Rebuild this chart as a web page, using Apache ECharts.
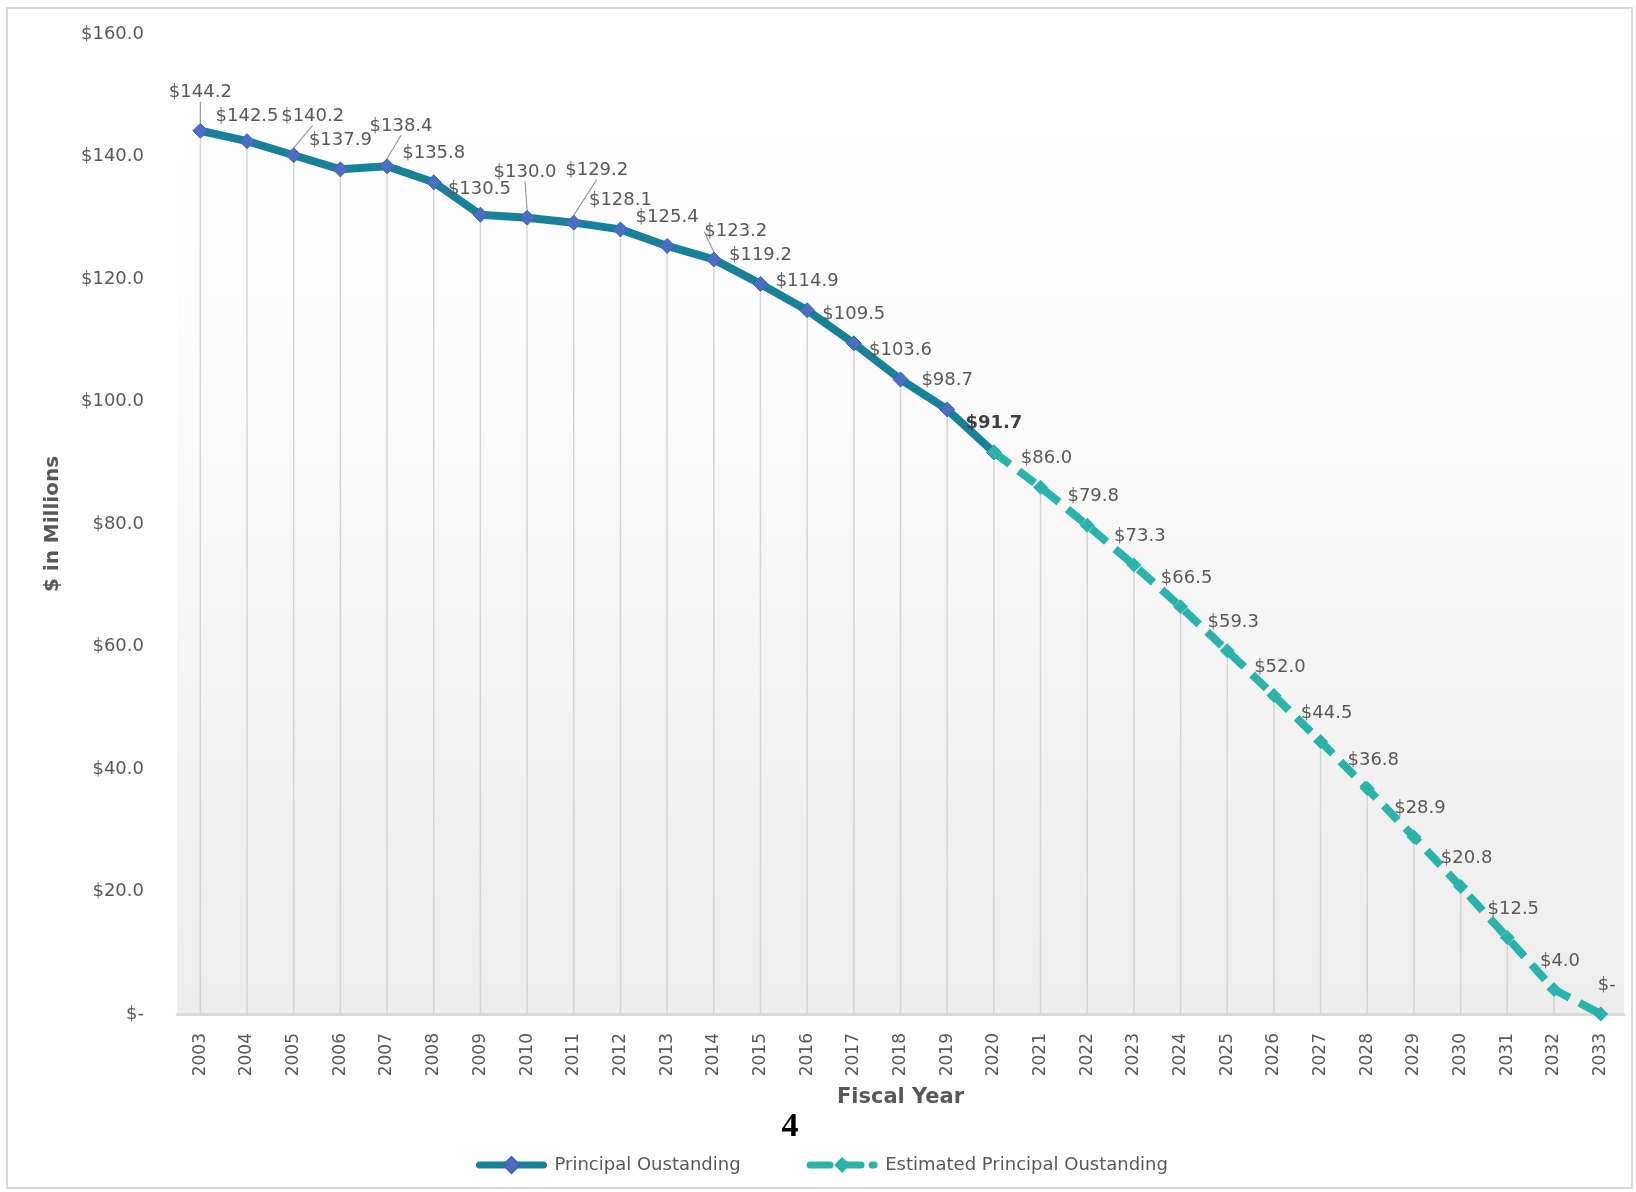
<!DOCTYPE html>
<html>
<head>
<meta charset="utf-8">
<script src="https://cdn.jsdelivr.net/npm/echarts@6/dist/echarts.min.js"></script>
<style>
html,body{margin:0;padding:0;background:#fff;}
#c{width:1636px;height:1192px;}
</style>
</head>
<body>
<div id="c"></div>
<script>
// ---- data ----
const years = ['2003','2004','2005','2006','2007','2008','2009','2010','2011','2012','2013','2014','2015','2016','2017','2018','2019','2020','2021','2022','2023','2024','2025','2026','2027','2028','2029','2030','2031','2032','2033'];
const principalOutstanding = [144.2,142.5,140.2,137.9,138.4,135.8,130.5,130.0,129.2,128.1,125.4,123.2,119.2,114.9,109.5,103.6,98.7,91.7];
const estimatedYearsStart = '2020';
const estimatedPrincipal = [91.7,86.0,79.8,73.3,66.5,59.3,52.0,44.5,36.8,28.9,20.8,12.5,4.0,0];
const yTicks = [0,20,40,60,80,100,120,140,160];
const seriesNames = ['Principal Oustanding','Estimated Principal Oustanding'];

// ---- label placement tweaks (styling, keyed by year) ----
const labelShift = {
  '2003':{dx:0,dy:-9,line:true},
  '2004':{dx:0,dy:4},
  '2005':{dx:19,dy:-10,line:true},
  '2007':{dx:14,dy:-11,line:true},
  '2009':{dx:-1,dy:4},
  '2010':{dx:-2,dy:-16,line:true},
  '2011':{dx:23,dy:-23,line:true},
  '2014':{dx:22,dy:1,line:true}
};

const fmt = v => v === 0 ? '$-' : '$' + v.toFixed(1);
const estStart = years.indexOf(estimatedYearsStart);

const actualData = principalOutstanding.map((v,i) => {
  const item = {value: v};
  const s = labelShift[years[i]];
  if (s && s.line) item.labelLine = {show:true, lineStyle:{color:'#9a9a9a', width:1.2}};
  if (years[i] === estimatedYearsStart) item.label = {fontWeight:'bold', color:'#404040'};
  return item;
});
const estData = years.map((y,i) => {
  if (i < estStart) return '-';
  const v = estimatedPrincipal[i - estStart];
  const item = {value: v};
  if (i === estStart) item.label = {show:false};
  return item;
});
const dropData = years.map((y,i) => i < estStart ? principalOutstanding[i] : estimatedPrincipal[i - estStart]);

const labelFont = 'DejaVu Sans';
const chart = echarts.init(document.getElementById('c'));
chart.setOption({
  backgroundColor:'#ffffff',
  animation:false,
  grid:{left:177,right:12,top:34,bottom:178,show:true,borderWidth:0,
    backgroundColor:new echarts.graphic.LinearGradient(0,0,0,1,[{offset:0,color:'#ffffff'},{offset:0.3,color:'#fcfcfc'},{offset:1,color:'#ededed'}])},
  graphic:[
    {type:'rect',shape:{x:7,y:8,width:1625,height:1180},style:{fill:'none',stroke:'#d9d9d9',lineWidth:2},silent:true,z:-10},
    {type:'text',x:790,y:1127,style:{text:'4',font:'bold 34px "Liberation Serif"',fill:'#000',textAlign:'center',textVerticalAlign:'middle'}}
  ],
  legend:{
    data:seriesNames,
    left:471, top:1151,
    itemWidth:64, itemHeight:20, itemGap:66,
    lineStyle:{width:7,cap:'round'},
    textStyle:{fontFamily:labelFont,fontSize:18,color:'#595959',padding:[0,0,0,6]}
  },
  xAxis:{
    type:'category', data:years, boundaryGap:true,
    axisLine:{show:true,lineStyle:{color:'#d9d9d9',width:3}},
    axisTick:{show:false},
    axisLabel:{rotate:90,margin:19,fontFamily:labelFont,fontSize:17,color:'#595959',interval:0},
    splitLine:{show:false},
    name:'Fiscal Year', nameLocation:'middle', nameGap:73,
    nameTextStyle:{fontFamily:labelFont,fontWeight:'bold',fontSize:21,color:'#595959'}
  },
  yAxis:{
    type:'value', min:yTicks[0], max:yTicks[yTicks.length-1], interval:yTicks[1]-yTicks[0],
    axisLine:{show:false}, axisTick:{show:false}, splitLine:{show:false},
    axisLabel:{margin:33,fontFamily:labelFont,fontSize:18,color:'#595959',formatter:v=>fmt(v)},
    name:'$ in Millions', nameLocation:'middle', nameRotate:90, nameGap:114,
    nameTextStyle:{fontFamily:labelFont,fontWeight:'bold',fontSize:20,color:'#595959'}
  },
  series:[
    {
      type:'bar', name:'drop', data:dropData, barWidth:1.5, silent:true, z:1,
      itemStyle:{color:'#d4d4d4'}, label:{show:false}
    },
    {
      type:'line', name:seriesNames[0], data:actualData, z:3,
      symbol:'diamond', symbolSize:15, showAllSymbol:true,
      lineStyle:{color:'#17819a',width:8},
      itemStyle:{color:'#4a6ec2',borderColor:'#3f62b5',borderWidth:1},
      label:{show:true,position:'top',distance:12,offset:[6,0],fontFamily:labelFont,fontSize:18,color:'#595959',formatter:p=>fmt(p.value)},
      labelLayout:p=>{const s=labelShift[years[p.dataIndex]]; return s?{dx:s.dx,dy:s.dy}:{};}
    },
    {
      type:'line', name:seriesNames[1], data:estData, z:4,
      symbol:'diamond', symbolSize:15, showAllSymbol:true,
      lineStyle:{color:'#2ab3ab',width:8,type:[20,11]},
      itemStyle:{color:'#2ab3ab'},
      label:{show:true,position:'top',distance:12,offset:[6,0],fontFamily:labelFont,fontSize:18,color:'#595959',formatter:p=>fmt(p.value)}
    }
  ]
});
</script>
</body>
</html>
